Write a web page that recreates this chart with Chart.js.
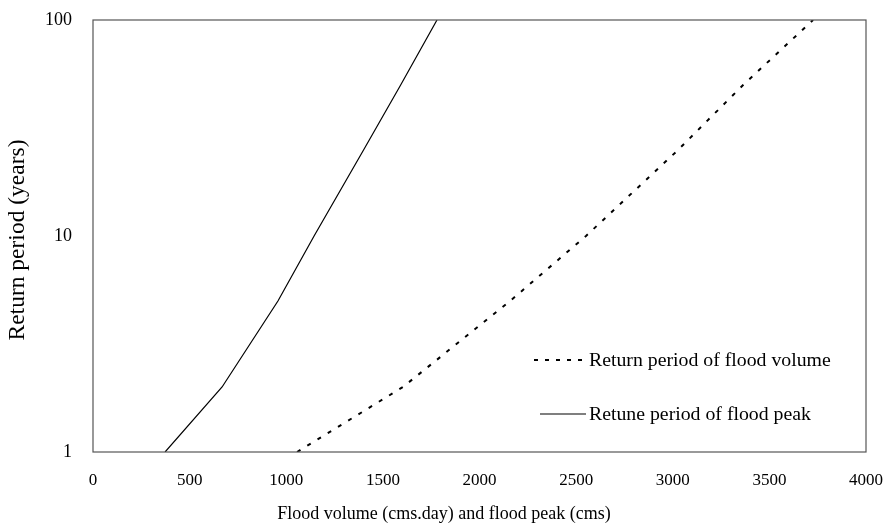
<!DOCTYPE html>
<html>
<head>
<meta charset="utf-8">
<script src="https://cdn.jsdelivr.net/npm/chart.js@4.4.0/dist/chart.umd.min.js"></script>
<style>
html,body{margin:0;padding:0;background:#fff;}
#wrap{width:887px;height:531px;}
</style>
</head>
<body>
<div id="wrap"><canvas id="c" width="887" height="531"></canvas></div>
<script>
const returnPeriods = [1, 2, 5, 10, 25, 50, 100];
const floodVolume = [1056, 1604, 2158, 2551, 3027, 3364, 3726];
const floodPeak = [373, 668, 957, 1144, 1400, 1592, 1780];
const yTicks = [1, 10, 100];
const xTitle = 'Flood volume (cms.day) and flood peak (cms)';
const yTitle = 'Return period (years)';
const volumeLabel = 'Return period of flood volume';
const peakLabel = 'Retune period of flood peak';

const FONT = '"Liberation Serif", "DejaVu Serif", serif';

const framePlugin = {
  id: 'frame',
  afterDatasetsDraw(chart) {
    const {ctx, chartArea: a} = chart;
    ctx.save();
    ctx.strokeStyle = '#555';
    ctx.lineWidth = 1.2;
    ctx.strokeRect(a.left, a.top, a.right - a.left, a.bottom - a.top);
    ctx.restore();
  }
};

const textPlugin = {
  id: 'texts',
  afterDraw(chart) {
    const {ctx} = chart;
    ctx.save();
    ctx.fillStyle = '#000';
    ctx.textBaseline = 'middle';
    ctx.font = '18px ' + FONT;
    ctx.textAlign = 'center';
    ctx.fillText(xTitle, 444, 514);
    ctx.save();
    ctx.translate(18, 240);
    ctx.rotate(-Math.PI / 2);
    ctx.font = '23.5px ' + FONT;
    ctx.fillText(yTitle, 0, 0);
    ctx.restore();
    const items = [
      {label: volumeLabel, dash: [4, 7], width: 2, y: 360, x0: 534},
      {label: peakLabel, dash: [], width: 1.2, y: 414, x0: 540}
    ];
    ctx.font = '19.8px ' + FONT;
    ctx.textAlign = 'left';
    items.forEach(it => {
      ctx.beginPath();
      ctx.setLineDash(it.dash);
      ctx.lineWidth = it.width;
      ctx.strokeStyle = '#000';
      ctx.moveTo(it.x0, it.y);
      ctx.lineTo(586, it.y);
      ctx.stroke();
      ctx.setLineDash([]);
      ctx.fillText(it.label, 589, it.y + 1);
    });
    ctx.restore();
  }
};

new Chart(document.getElementById('c'), {
  type: 'line',
  data: {
    datasets: [
      {
        label: volumeLabel,
        data: returnPeriods.map((t, i) => ({x: floodVolume[i], y: t})),
        borderColor: '#000',
        borderWidth: 2,
        borderDash: [4, 8],
        pointRadius: 0,
        tension: 0,
        fill: false
      },
      {
        label: peakLabel,
        data: returnPeriods.map((t, i) => ({x: floodPeak[i], y: t})),
        borderColor: '#000',
        borderWidth: 1.2,
        pointRadius: 0,
        tension: 0,
        fill: false
      }
    ]
  },
  options: {
    responsive: false,
    animation: false,
    layout: {padding: {top: 20, right: 21, left: 0, bottom: 0}},
    plugins: {legend: {display: false}, tooltip: {enabled: false}},
    scales: {
      x: {
        type: 'linear',
        min: 0, max: 4000,
        ticks: {stepSize: 500, color: '#000', font: {family: FONT, size: 17}, padding: 18,
          callback: v => String(v)},
        grid: {display: false, drawTicks: false},
        border: {display: false},
        title: {display: false},
        afterFit(s) { s.height = 79; s.paddingLeft = 0; s.paddingRight = 0; }
      },
      y: {
        type: 'logarithmic',
        min: 1, max: 100,
        afterBuildTicks(s) { s.ticks = yTicks.map(v => ({value: v})); },
        ticks: {color: '#000', font: {family: FONT, size: 18}, padding: 21,
          callback: v => String(v)},
        grid: {display: false, drawTicks: false},
        border: {display: false},
        title: {display: false},
        afterFit(s) { s.width = 93; s.paddingTop = 0; s.paddingBottom = 0; }
      }
    }
  },
  plugins: [framePlugin, textPlugin]
});
</script>
</body>
</html>
